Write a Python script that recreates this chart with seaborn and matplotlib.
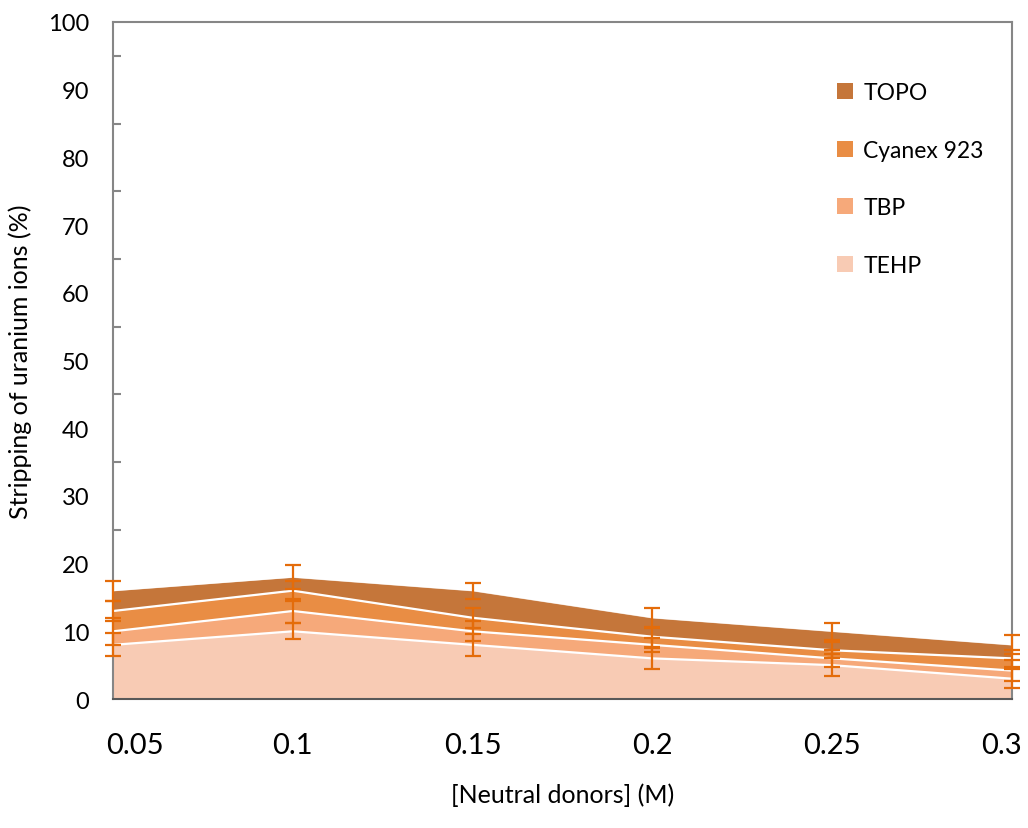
import matplotlib
matplotlib.use("Agg")
import matplotlib.pyplot as plt
from matplotlib.patches import Patch
from matplotlib.transforms import ScaledTranslation
import seaborn as sns
import numpy as np
import pandas as pd

# ---- data ----
concentrations = [0.05, 0.1, 0.15, 0.2, 0.25, 0.3]
x_tick_labels = ["0.05", "0.1", "0.15", "0.2", "0.25", "0.3"]
series_names = ["TEHP", "TBP", "Cyanex 923", "TOPO"]
tehp = [8, 10, 8, 6, 5, 3]
tbp = [2, 3, 2, 2, 1, 1.2]
cyanex = [3, 3, 2, 1.2, 1.2, 1.8]
topo = [3, 2, 4, 2.8, 2.8, 2]
err_tehp = [1.7, 1.2, 1.6, 1.6, 1.6, 1.4]
err_tbp = [2.0, 1.7, 1.5, 1.0, 1.2, 1.5]
err_cyanex = [1.5, 1.5, 1.5, 1.5, 1.2, 1.2]
err_topo = [1.5, 1.8, 1.2, 1.5, 1.3, 1.4]

colors = ["#F8CBB4", "#F6A97A", "#E98D44", "#C5763A"]
err_color = "#E46C0A"

sns.set_style("white")
plt.rcParams["font.family"] = ["Lato", "DejaVu Sans"]
plt.rcParams["text.color"] = "#000000"

fig = plt.figure(figsize=(10.28, 8.29), dpi=100)
ax = fig.add_axes([0.110, 0.1556, 0.8744, 0.8167])

layers = [tehp, tbp, cyanex, topo]
errs = [err_tehp, err_tbp, err_cyanex, err_topo]
x = np.array(concentrations)
base = np.zeros(len(x))
tops = []
for vals, c in zip(layers, colors):
    top = base + np.array(vals)
    ax.fill_between(x, base, top, color=c, linewidth=0, zorder=2)
    tops.append(top)
    base = top

# white boundary lines between layers
for i, top in enumerate(tops):
    df = pd.DataFrame({"x": x, "y": top})
    sns.lineplot(data=df, x="x", y="y", ax=ax, color="white",
                 linewidth=1.6 if i < 3 else 1.0, zorder=3,
                 alpha=1.0 if i < 3 else 0.6)

# error bars
for top, e in zip(tops, errs):
    ax.errorbar(x, top, yerr=e, fmt="none", ecolor=err_color,
                elinewidth=1.6, capsize=5.5, capthick=1.6, zorder=5,
                clip_on=False)

ax.set_xlim(0.05, 0.3)
ax.set_ylim(0, 100)
ax.set_xticks(concentrations)
ax.set_xticklabels(x_tick_labels, fontsize=21)
ax.set_yticks(np.arange(0, 101, 10))
ax.set_yticks(np.arange(5, 100, 10), minor=True)
ax.tick_params(axis="y", which="major", direction="in", length=6, width=1.5,
               color="#868686", labelsize=17, pad=17, labelcolor="black")
ax.tick_params(axis="y", which="minor", direction="in", length=6, width=1.5,
               color="#868686", left=True)
ax.tick_params(axis="x", which="major", direction="out", length=7, width=1.5,
               color="#868686", pad=17, labelcolor="black")
ax.set_xlabel("[Neutral donors] (M)", fontsize=18, labelpad=17, color="black")
ax.set_ylabel("Stripping of uranium ions (%)", fontsize=18, labelpad=12,
              color="black")

# shift edge tick labels inward like the original
xl = ax.get_xticklabels()
xl[0].set_transform(xl[0].get_transform() + ScaledTranslation(0.22, 0, fig.dpi_scale_trans))
xl[-1].set_transform(xl[-1].get_transform() + ScaledTranslation(-0.11, 0, fig.dpi_scale_trans))

for s in ["left", "top", "right"]:
    ax.spines[s].set_visible(True)
    ax.spines[s].set_color("#868686")
    ax.spines[s].set_linewidth(1.5)
ax.spines["bottom"].set_color("#595959")
ax.spines["bottom"].set_linewidth(1.5)

handles = [Patch(facecolor=c, edgecolor="none") for c in colors[::-1]]
leg = ax.legend(handles, series_names[::-1], loc="upper left",
                bbox_to_anchor=(0.795, 0.925), frameon=False, fontsize=16.5,
                handlelength=0.7, handleheight=0.7, handletextpad=0.45,
                labelspacing=1.6, borderaxespad=0)

fig.savefig("out.png", dpi=100)
